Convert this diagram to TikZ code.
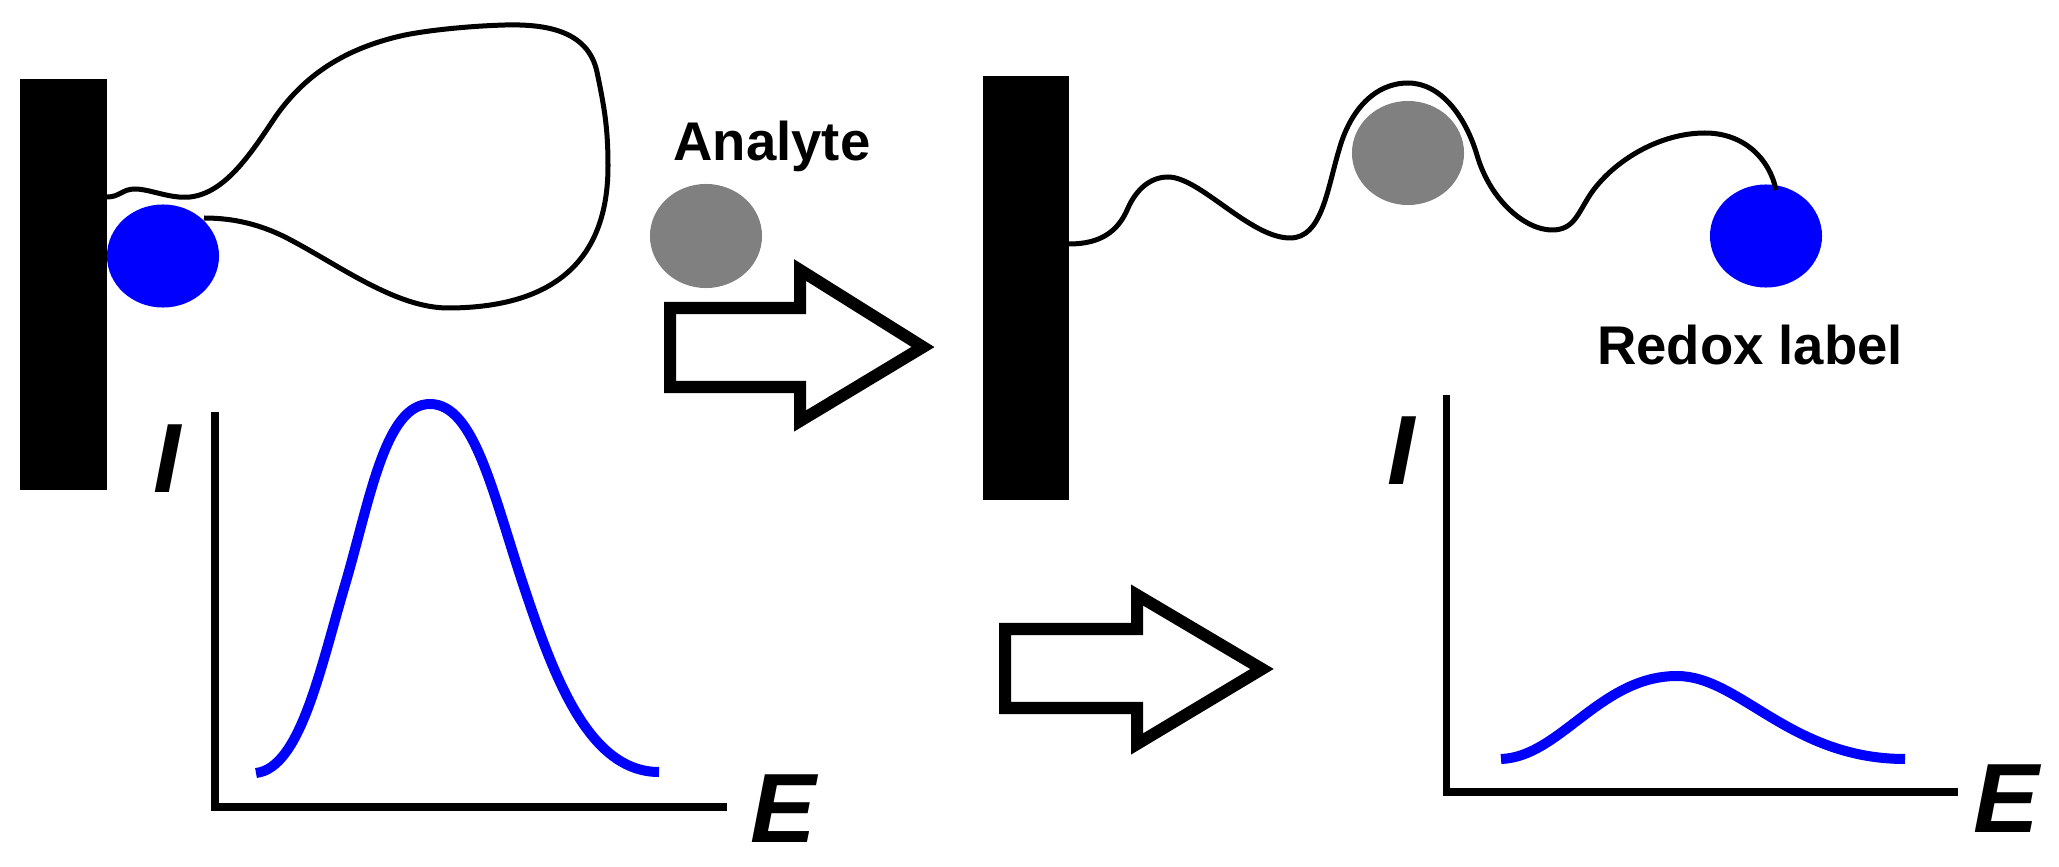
\documentclass[tikz,border=0pt]{standalone}
\usepackage{fontspec}
\setmainfont{Liberation Sans}
\usetikzlibrary{shapes.geometric}

\begin{document}
\begin{tikzpicture}[x=0.01cm,y=-0.01cm,
  bar/.style={rectangle,fill=black,inner sep=0pt,minimum width=0.86cm},
  redox/.style={ellipse,fill=blue,inner sep=0pt,minimum width=1.12cm,minimum height=1.03cm},
  analyte/.style={ellipse,fill=gray,inner sep=0pt,minimum width=1.12cm,minimum height=1.04cm},
  strand/.style={line width=0.05cm,line join=round},
  peak/.style={blue,line width=0.1cm},
  axes/.style={line width=0.07cm,line join=miter},
  block/.style={line width=0.12cm,line join=miter,fill=white},
  tag/.style={font=\fontsize{15.5}{18}\selectfont\bfseries,inner sep=0pt},
  quantity/.style={font=\fontsize{28}{32}\selectfont\bfseries\itshape,inner sep=0pt}]
\useasboundingbox (0,0) rectangle (2059,867);

\node at (63.5,284.5) [bar,minimum height=4.11cm] (barL) {};
\node at (1026,288) [bar,minimum height=4.23cm] (barR) {};
\node at (163,256) [redox] (redoxL) {};
\node at (1766,236) [redox] (redoxR) {};
\node at (706,236) [analyte] (analyteL) {};
\node at (1408,153) [analyte] (analyteR) {};

\node at (772,146) [tag] (analyte) {Analyte};
\node at (1750,345) [tag] (redox) {Redox label};
\node at (167,459) [quantity] (currentL) {I};
\node at (1401,451) [quantity] (currentR) {I};
\node at (783,809) [quantity] (potentialL) {E};
\node at (2006,799) [quantity] (potentialR) {E};

% folded probe
\draw[strand] (107,197) .. controls (120,197) and (122,189) .. (135,189)
  .. controls (150,189) and (170,199) .. (190,197)
  .. controls (225,193) and (250,155) .. (276,116)
  .. controls (305,75) and (345,48) .. (405,35)
  .. controls (430,30) and (470,26) .. (505,25)
  .. controls (545,24) and (588,30) .. (597,72)
  .. controls (605,110) and (608,130) .. (608,166)
  .. controls (608,240) and (575,307) .. (450,308)
  .. controls (395,309) and (335,262) .. (283,236)
  .. controls (260,225) and (235,218) .. (204,218);
% open probe
\draw[strand] (1069,244) .. controls (1100,244) and (1118,232) .. (1128,208)
  .. controls (1136,190) and (1150,177) .. (1168,177)
  .. controls (1200,177) and (1250,238) .. (1290,238)
  .. controls (1322,238) and (1327,190) .. (1339,150)
  .. controls (1350,110) and (1375,83) .. (1408,83)
  .. controls (1440,83) and (1465,115) .. (1477,155)
  .. controls (1490,200) and (1525,230) .. (1552,230)
  .. controls (1575,230) and (1578,212) .. (1592,192)
  .. controls (1615,160) and (1660,133) .. (1705,133)
  .. controls (1745,133) and (1770,160) .. (1776,190);

\draw[block] (670,308) -- (800,308) -- (800,270) -- (923,347) -- (800,421) -- (800,387) -- (670,387) -- cycle;
\draw[block] (1005,629) -- (1137,629) -- (1137,595) -- (1262,669) -- (1137,744) -- (1137,708) -- (1005,708) -- cycle;

\draw[axes] (215,412) -- (215,807) -- (727,807);
\draw[axes] (1446,395) -- (1446,792) -- (1958,792);

\draw[peak] (256,773) .. controls (300,768) and (320,670) .. (345,585)
  .. controls (370,500) and (385,404) .. (430,404)
  .. controls (475,404) and (493,495) .. (525,590)
  .. controls (555,680) and (590,772) .. (659,772);
\draw[peak] (1501,759) .. controls (1560,757) and (1600,676) .. (1677,676)
  .. controls (1740,676) and (1790,759) .. (1905,759);
\end{tikzpicture}
\end{document}
